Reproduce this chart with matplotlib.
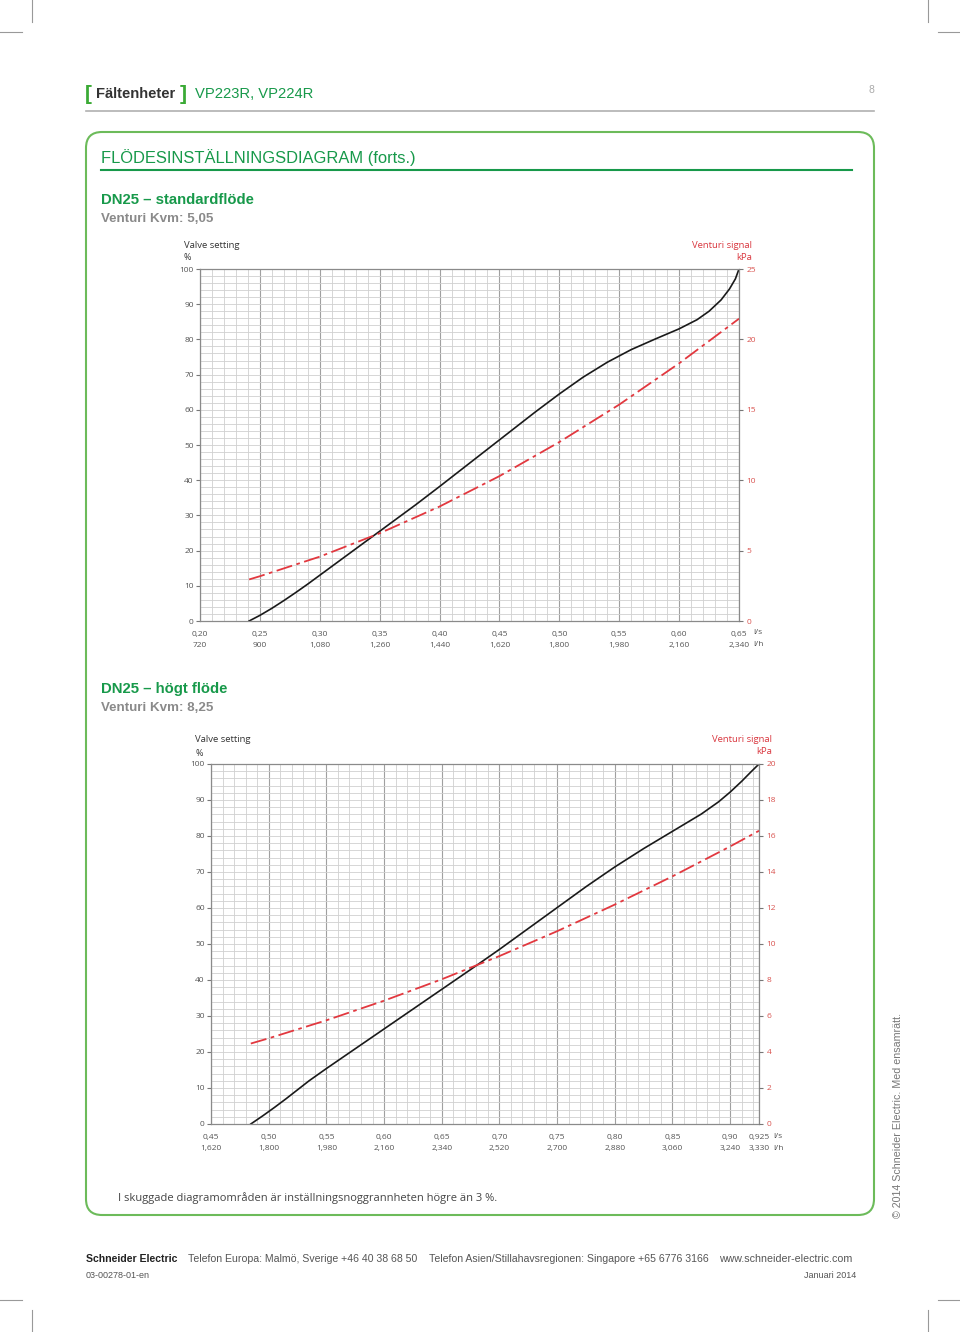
import matplotlib
matplotlib.use("Agg")
import matplotlib.pyplot as plt
from matplotlib.patches import FancyBboxPatch
from matplotlib.lines import Line2D
from matplotlib.transforms import Affine2D
from matplotlib.ticker import MultipleLocator

W, H = 960, 1332

# DN25 - standardflöde (Kvm 5,05)
std_ticks = [0.20, 0.25, 0.30, 0.35, 0.40, 0.45, 0.50, 0.55, 0.60, 0.65]
std_labels_ls = ['0,20', '0,25', '0,30', '0,35', '0,40', '0,45', '0,50', '0,55', '0,60', '0,65']
std_labels_lh = ['720', '900', '1,080', '1,260', '1,440', '1,620', '1,800', '1,980', '2,160', '2,340']
std_valve_flow = [0.241, 0.250, 0.260, 0.270, 0.280, 0.290, 0.300, 0.320, 0.340, 0.360, 0.380,
                  0.400, 0.420, 0.440, 0.460, 0.480, 0.500, 0.520, 0.540, 0.560, 0.580,
                  0.600, 0.615, 0.625, 0.635, 0.642, 0.647, 0.6485, 0.650]
std_valve_pct = [0, 1.6, 3.6, 5.8, 8.1, 10.5, 13.0, 18.0, 23.0, 28.0, 33.0,
                 38.2, 43.5, 48.8, 54.1, 59.4, 64.5, 69.3, 73.5, 77.1, 80.1,
                 83.0, 85.6, 88.0, 91.2, 94.3, 97.2, 98.6, 100]
std_venturi_flow = [0.241, 0.25, 0.30, 0.35, 0.40, 0.45, 0.50, 0.55, 0.60, 0.65]
std_venturi_kpa = [2.95, 3.18, 4.57, 6.23, 8.13, 10.29, 12.71, 15.37, 18.30, 21.47]

# DN25 - högt flöde (Kvm 8,25)
high_ticks = [0.45, 0.50, 0.55, 0.60, 0.65, 0.70, 0.75, 0.80, 0.85, 0.90, 0.925]
high_labels_ls = ['0,45', '0,50', '0,55', '0,60', '0,65', '0,70', '0,75', '0,80', '0,85', '0,90', '0,925']
high_labels_lh = ['1,620', '1,800', '1,980', '2,160', '2,340', '2,520', '2,700', '2,880', '3,060', '3,240', '3,330']
high_valve_flow = [0.4845, 0.495, 0.505, 0.515, 0.525, 0.535, 0.550, 0.575, 0.600, 0.625, 0.650,
                   0.675, 0.700, 0.725, 0.750, 0.775, 0.800, 0.825, 0.850, 0.875, 0.890,
                   0.900, 0.910, 0.918, 0.925]
high_valve_pct = [0, 2.3, 4.6, 7.0, 9.5, 12.0, 15.4, 20.9, 26.4, 31.9, 37.4,
                  42.9, 48.5, 54.3, 60.1, 65.9, 71.4, 76.5, 81.3, 86.1, 89.5,
                  92.2, 95.2, 97.8, 100]
high_venturi_flow = [0.4845, 0.50, 0.55, 0.60, 0.65, 0.70, 0.75, 0.80, 0.85, 0.90, 0.925]
high_venturi_kpa = [4.47, 4.76, 5.76, 6.85, 8.04, 9.33, 10.71, 12.19, 13.76, 15.42, 16.29]

GREEN = '#17994a'
GREY_TXT = '#8a8a8a'
RED = '#e2383f'
CHART_FONT = 'Open Sans'
PAGE_FONT = 'Liberation Sans'

fig = plt.figure(figsize=(W / 100, H / 100), dpi=100)
# pixel coords, origin top-left
pix = Affine2D().scale(1 / W, -1 / H).translate(0, 1) + fig.transFigure


def line(xs, ys, color, lw):
    fig.add_artist(Line2D(xs, ys, color=color, lw=lw, transform=pix))


def txt(x, y, s, **kw):
    kw.setdefault('family', PAGE_FONT)
    kw.setdefault('va', 'center')
    fig.text(x, y, s, transform=pix, **kw)


# crop marks
for xs, ys in [([32, 32], [0, 22]), ([0, 22], [32, 32]),
               ([928, 928], [0, 22]), ([938, 960], [32, 32]),
               ([32, 32], [1310, 1332]), ([0, 22], [1300, 1300]),
               ([928, 928], [1310, 1332]), ([938, 960], [1300, 1300])]:
    line(xs, ys, '#999999', 0.8)

# header
txt(85, 94, '[', color='#3aaa35', fontsize=15, weight='bold')
txt(96, 94, 'Fältenheter', color='#333333', fontsize=10.6, weight='bold')
txt(180, 94, ']', color='#3aaa35', fontsize=15, weight='bold')
txt(195, 94, 'VP223R, VP224R', color=GREEN, fontsize=10.6)
txt(874, 90, '8', color='#aaaaaa', fontsize=7.5, ha='right')
line([86, 874], [111, 111], '#b0b0b0', 1.2)

# green frame
box = FancyBboxPatch((86, 132), 788, 1083, boxstyle='round,pad=0,rounding_size=16',
                     fill=False, ec='#6cbb5a', lw=1.5, transform=pix)
fig.add_artist(box)

txt(101, 158, 'FLÖDESINSTÄLLNINGSDIAGRAM (forts.)', color=GREEN, fontsize=11.9)
line([101, 852], [170, 170], GREEN, 1.5)

txt(101, 200, 'DN25 – standardflöde', color=GREEN, fontsize=10.7, weight='bold')
txt(101, 219, 'Venturi Kvm: 5,05', color=GREY_TXT, fontsize=9.6, weight='bold')
txt(101, 689, 'DN25 – högt flöde', color=GREEN, fontsize=10.7, weight='bold')
txt(101, 708, 'Venturi Kvm: 8,25', color=GREY_TXT, fontsize=9.6, weight='bold')


def chart(left, top, right, bottom, ticks, lab_ls, lab_lh, kpa_max, kpa_step,
          v_flow, v_pct, q_flow, q_kpa):
    ax = fig.add_axes([left / W, 1 - bottom / H, (right - left) / W, (bottom - top) / H])
    ax.set_xlim(ticks[0], ticks[-1])
    ax.set_ylim(0, 100)
    ax.set_xticks(ticks)
    ax.set_xticklabels([a + '\n' + b for a, b in zip(lab_ls, lab_lh)],
                       fontsize=6, color='#555555', family=CHART_FONT, linespacing=1.75)
    ax.xaxis.set_minor_locator(MultipleLocator(0.01))
    ax.set_yticks(range(0, 101, 10))
    ax.yaxis.set_minor_locator(MultipleLocator(2))
    ax.grid(which='minor', color='#d0d0d0', lw=0.6)
    ax.grid(which='major', axis='y', color='#d0d0d0', lw=0.6)
    ax.grid(which='major', axis='x', color='#a0a0a0', lw=0.8)
    ax.set_axisbelow(True)
    ax.tick_params(axis='x', which='both', length=0, pad=7.5)
    ax.tick_params(axis='y', which='major', length=3, color='#777777', pad=1.5)
    ax.tick_params(axis='y', which='minor', length=0)
    for lbl in ax.get_yticklabels():
        lbl.set_fontsize(6)
        lbl.set_color('#555555')
        lbl.set_family(CHART_FONT)
    for s in ax.spines.values():
        s.set_color('#8a8a8a')
        s.set_linewidth(0.9)
    ax.plot(v_flow, v_pct, color='#1a1a1a', lw=1.2)

    tw = ax.twinx()
    tw.set_ylim(0, kpa_max)
    tw.set_yticks(range(0, kpa_max + 1, kpa_step))
    tw.tick_params(length=3, color='#777777', pad=2.5)
    for lbl in tw.get_yticklabels():
        lbl.set_fontsize(6)
        lbl.set_color('#d9534f')
        lbl.set_family(CHART_FONT)
    for s in tw.spines.values():
        s.set_visible(False)
    tw.plot(q_flow, q_kpa, color=RED, lw=1.3, ls=(0, (9, 2.5, 2, 2.5)))

    # axis titles and units
    txt(left - 16, top - 24, 'Valve setting', family=CHART_FONT, fontsize=6.8, color='#333333')
    txt(left - 16, top - 11, '%', family=CHART_FONT, fontsize=6.5, color='#333333')
    txt(right + 13, top - 24, 'Venturi signal', family=CHART_FONT, fontsize=6.8,
        color='#d9363e', ha='right')
    txt(right + 13, top - 12, 'kPa', family=CHART_FONT, fontsize=6.8, color='#d9363e', ha='right')
    txt(right + 14, bottom + 12, 'l/s', family=CHART_FONT, fontsize=6, color='#555555')
    txt(right + 14, bottom + 24, 'l/h', family=CHART_FONT, fontsize=6, color='#555555')


chart(200, 269, 739, 621, std_ticks, std_labels_ls, std_labels_lh, 25, 5,
      std_valve_flow, std_valve_pct, std_venturi_flow, std_venturi_kpa)
chart(211, 764, 759, 1124, high_ticks, high_labels_ls, high_labels_lh, 20, 2,
      high_valve_flow, high_valve_pct, high_venturi_flow, high_venturi_kpa)

txt(118, 1198, 'I skuggade diagramområden är inställningsnoggrannheten högre än 3 %.',
    family=CHART_FONT, fontsize=8, color='#444444')

# vertical copyright
txt(898, 1218, '© 2014 Schneider Electric. Med ensamrätt.', fontsize=7.7, color='#777777',
    rotation=90, ha='center', va='bottom')

# footer
txt(86, 1259, 'Schneider Electric', fontsize=7.6, weight='bold', color='#222222')
txt(188, 1259, 'Telefon Europa: Malmö, Sverige +46 40 38 68 50', fontsize=7.6, color='#555555')
txt(429, 1259, 'Telefon Asien/Stillahavsregionen: Singapore +65 6776 3166', fontsize=7.6, color='#555555')
txt(719, 1259, 'www.schneider-electric.com', fontsize=7.7, color='#555555')
txt(86, 1275, '03-00278-01-en', fontsize=6.5, color='#555555')
txt(856, 1275, 'Januari 2014', fontsize=6.5, color='#555555', ha='right')

fig.savefig('out.png', dpi=100)
plt.close('all')
